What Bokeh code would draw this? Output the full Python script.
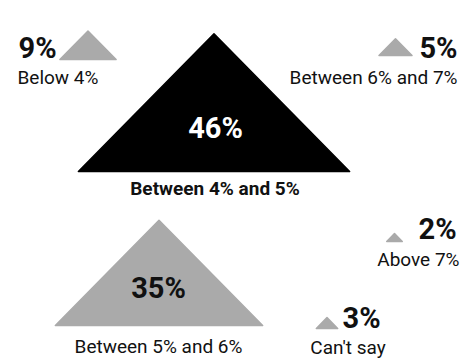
from bokeh.plotting import figure
from bokeh.models import Range1d
from bokeh.embed import file_html
from bokeh.resources import INLINE
from bokeh.core.properties import value

# ---- data ----
categories = ["Below 4%", "Between 4% and 5%", "Between 5% and 6%",
              "Between 6% and 7%", "Above 7%", "Can't say"]
values = [9, 46, 35, 5, 2, 3]

# ---- layout (reference pixel coordinates) ----
base_x = [87.5, 213.5, 158.5, 395, 394, 326.5]
base_y = [59, 171, 325, 55, 241, 328]
tri_colors = ["#aaaaaa", "#000000", "#aaaaaa", "#aaaaaa", "#aaaaaa", "#aaaaaa"]

pct_x = [18, 215, 158, 457, 418, 342]
pct_y = [47, 127, 287, 47, 228, 317]
pct_align = ["left", "center", "center", "right", "left", "left"]
pct_color = ["#111111", "#ffffff", "#111111", "#111111", "#111111", "#111111"]

cat_x = [17, 214.5, 158, 457, 459, 347.5]
cat_y = [77, 188, 346, 77, 259, 347]
cat_align = ["left", "center", "center", "right", "right", "center"]
cat_style = ["normal", "bold", "normal", "normal", "normal", "normal"]

FONT = "Roboto"

p = figure(width=460, height=360, output_backend="svg", toolbar_location=None,
           x_range=Range1d(0, 460), y_range=Range1d(360, 0), min_border=0)
p.axis.visible = False
p.grid.visible = False
p.outline_line_color = None
p.background_fill_color = "white"

# triangle size derived from the value
xs, ys = [], []
for v, bx, by in zip(values, base_x, base_y):
    h = 2.95 * v + 2
    w = 1.97 * h
    xs.append([bx - w / 2, bx, bx + w / 2])
    ys.append([by, by - h, by])

p.patches(xs=xs, ys=ys, fill_color=tri_colors, line_color=tri_colors,
          line_width=1.5, line_join="round")

for i, v in enumerate(values):
    p.text(x=[pct_x[i]], y=[pct_y[i]], text=[f"{v}%"],
           text_font=value(FONT), text_font_style="bold",
           text_font_size="29px", text_color=pct_color[i],
           text_align=pct_align[i], text_baseline="middle")
    p.text(x=[cat_x[i]], y=[cat_y[i]], text=[categories[i]],
           text_font=value(FONT), text_font_style=cat_style[i],
           text_font_size="19px", text_color="#111111",
           text_align=cat_align[i], text_baseline="middle")

open("out.html", "w").write(file_html(p, INLINE))
